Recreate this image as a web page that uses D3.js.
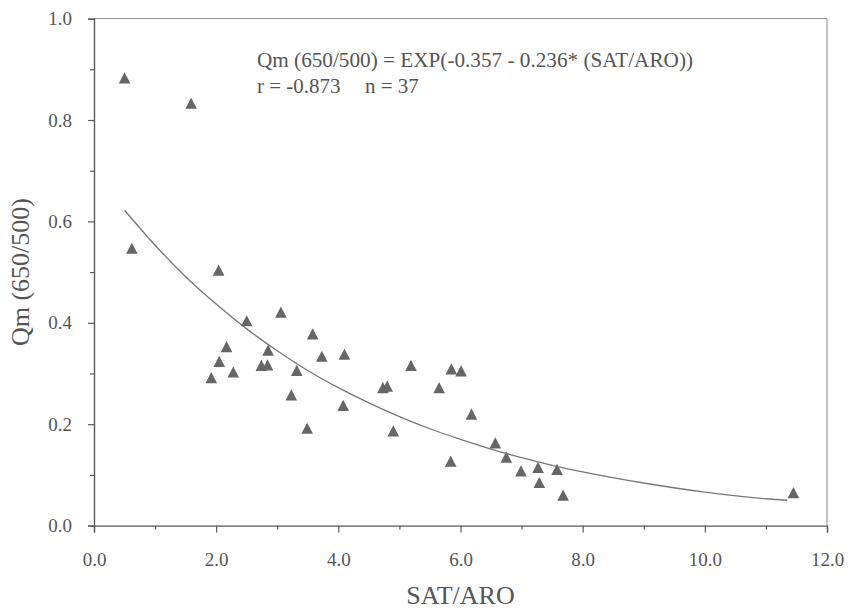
<!DOCTYPE html>
<html>
<head>
<meta charset="utf-8">
<script src="https://cdn.jsdelivr.net/npm/d3@7/dist/d3.min.js"></script>
<style>
  html, body { margin: 0; padding: 0; background: #fff; }
  svg { display: block; }
  text { font-family: "Liberation Serif", "Times New Roman", serif; fill: #555; }
</style>
</head>
<body>
<svg id="chart" width="848" height="611"></svg>
<script>
// ---- data ----
const satAro = [0.50, 1.59, 0.62, 2.04, 2.50, 3.06, 2.17, 3.58, 2.05, 2.85,
                3.73, 2.74, 2.84, 2.28, 1.92, 3.32, 3.23, 3.49, 4.10, 5.19,
                5.85, 6.01, 4.73, 4.80, 5.65, 4.08, 6.18, 4.90, 6.57, 6.75,
                5.84, 6.99, 7.27, 7.58, 7.29, 7.68, 11.45];
const qm = [0.883, 0.833, 0.547, 0.504, 0.404, 0.421, 0.353, 0.378, 0.324, 0.346,
            0.334, 0.316, 0.317, 0.303, 0.292, 0.306, 0.258, 0.192, 0.338, 0.316,
            0.309, 0.305, 0.272, 0.275, 0.272, 0.237, 0.220, 0.187, 0.163, 0.135,
            0.127, 0.108, 0.115, 0.111, 0.085, 0.060, 0.065];

// fitted curve
const curveX = [0.5, 1, 1.5, 2, 2.5, 3, 3.5, 4, 4.5, 5, 5.5, 6, 6.5, 7, 7.5, 8, 9, 10, 11, 11.35];
const curveY = [0.622, 0.553, 0.491, 0.437, 0.388, 0.345, 0.306, 0.272, 0.242, 0.215,
                0.191, 0.170, 0.151, 0.134, 0.119, 0.106, 0.084, 0.066, 0.053, 0.050];

const xMajor = [0, 2, 4, 6, 8, 10, 12];
const xMinor = [1, 3, 5, 7, 9, 11];
const yMajor = [0, 0.2, 0.4, 0.6, 0.8, 1.0];
const yMinor = [0.1, 0.3, 0.5, 0.7, 0.9];

const xTitle = "SAT/ARO";
const yTitle = "Qm (650/500)";
const eqText = "Qm (650/500) = EXP(-0.357 - 0.236* (SAT/ARO))";
const rText = "r = -0.873";
const nText = "n = 37";

// ---- drawing ----
const svg = d3.select("#chart");
const x = d3.scaleLinear().domain([0, 12]).range([94, 827]);
const y = d3.scaleLinear().domain([0, 1]).range([525.6, 18.6]);

const axisColor = "#5a5a5a";

// frame: top & right, lighter
svg.append("line").attr("x1", x(0)).attr("x2", x(12)).attr("y1", y(1)).attr("y2", y(1))
  .attr("stroke", "#8a8a8a").attr("stroke-width", 1);
svg.append("line").attr("x1", x(12)).attr("x2", x(12)).attr("y1", y(1)).attr("y2", y(0))
  .attr("stroke", "#8a8a8a").attr("stroke-width", 1);

// axes
const fmt = d3.format(".1f");
const gx = svg.append("g").attr("transform", `translate(0,${y(0)})`)
  .call(d3.axisBottom(x).tickValues(xMajor).tickFormat(fmt).tickSize(7).tickPadding(20));
const gxm = svg.append("g").attr("transform", `translate(0,${y(0)})`)
  .call(d3.axisBottom(x).tickValues(xMinor).tickFormat("").tickSize(4));
const gy = svg.append("g").attr("transform", `translate(${x(0)},0)`)
  .call(d3.axisLeft(y).tickValues(yMajor).tickFormat(fmt).tickSize(6).tickPadding(16));
const gym = svg.append("g").attr("transform", `translate(${x(0)},0)`)
  .call(d3.axisLeft(y).tickValues(yMinor).tickFormat("").tickSize(4));

[gx, gxm, gy, gym].forEach(g => {
  g.attr("font-family", null);
  g.selectAll("path.domain").attr("stroke", axisColor).attr("stroke-width", 1.4);
  g.selectAll(".tick line").attr("stroke", axisColor).attr("stroke-width", 1.2);
  g.selectAll(".tick text").style("font-family", '"Liberation Serif", serif')
    .style("font-size", "19px").attr("fill", "#555");
});
gxm.select("path.domain").remove();
gym.select("path.domain").remove();

// fitted curve
const line = d3.line().x((d, i) => x(curveX[i])).y((d, i) => y(curveY[i])).curve(d3.curveMonotoneX);
svg.append("path").datum(curveX).attr("d", line)
  .attr("fill", "none").attr("stroke", "#777").attr("stroke-width", 1.3);

// triangle markers
const hw = 5.8, hh = 5.6;
svg.append("g").selectAll("path").data(satAro).join("path")
  .attr("d", (d, i) => {
    const cx = x(d), cy = y(qm[i]);
    return `M${cx - hw},${cy + hh}L${cx + hw},${cy + hh}L${cx},${cy - hh}Z`;
  })
  .attr("fill", "#666");

// annotation
svg.append("text").attr("x", 257).attr("y", 67)
  .style("font-size", "21px").attr("textLength", 436).attr("lengthAdjust", "spacingAndGlyphs")
  .text(eqText);
svg.append("text").attr("x", 257).attr("y", 93).style("font-size", "21px").text(rText);
svg.append("text").attr("x", 365).attr("y", 93).style("font-size", "21px").text(nText);

// axis titles
svg.append("text").attr("x", (x(0) + x(12)) / 2).attr("y", 604)
  .attr("text-anchor", "middle").style("font-size", "26px").text(xTitle);
svg.append("text")
  .attr("transform", `translate(29,${(y(0) + y(1)) / 2}) rotate(-90)`)
  .attr("text-anchor", "middle").style("font-size", "26px").text(yTitle);
</script>
</body>
</html>
